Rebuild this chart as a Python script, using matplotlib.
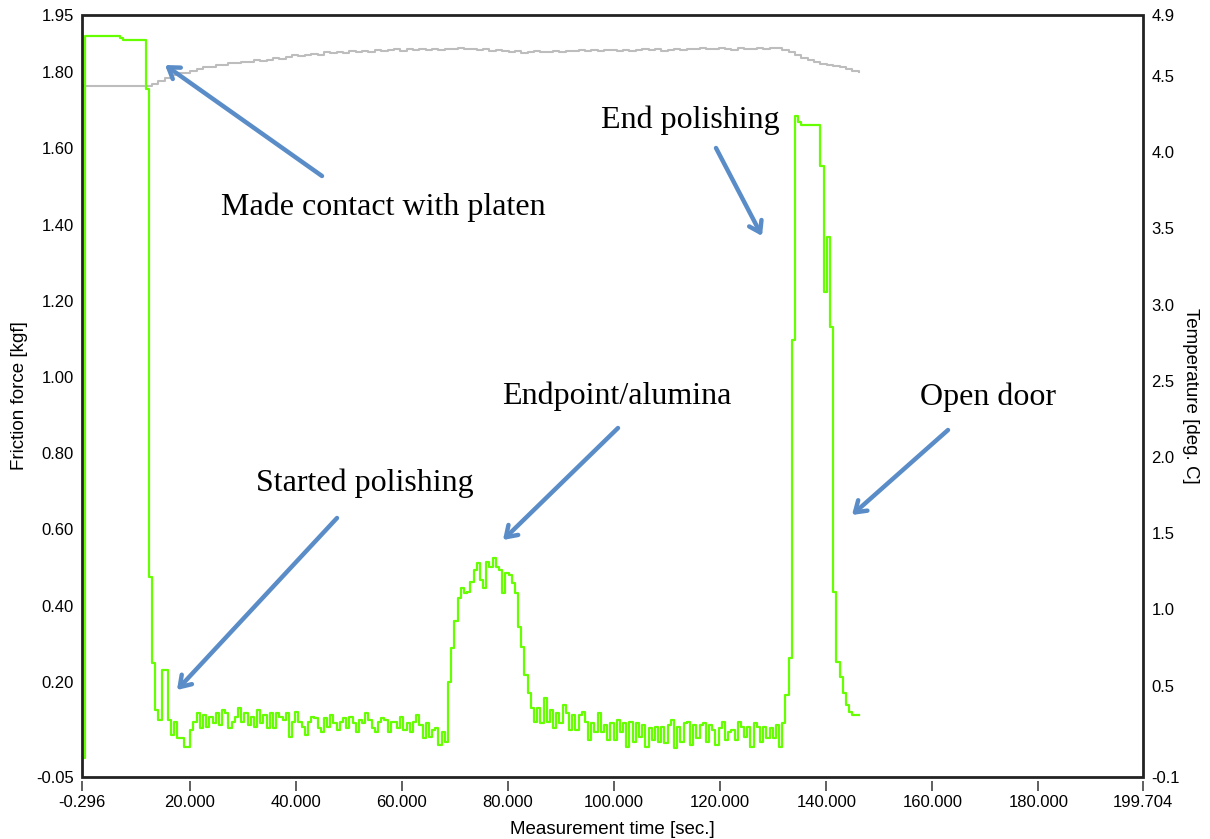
import numpy as np
import matplotlib.pyplot as plt
from matplotlib.patches import Rectangle

# friction force [kgf], sampled every 0.6 s from t = -0.296 s
dt_force = 0.6
force_start = [0.0] + [1.895] * 11 + [1.89] + [1.885] * 7 + [1.756, 0.475, 0.25, 0.126, 0.10, 0.23, 0.23]
force_noise_1 = [
    0.100, 0.060, 0.095, 0.052, 0.052, 0.030, 0.030, 0.073, 0.095, 0.117,
    0.078, 0.113, 0.082, 0.108, 0.091, 0.117, 0.086, 0.126, 0.117, 0.078,
    0.095, 0.108, 0.130, 0.095, 0.117, 0.086, 0.108, 0.082, 0.126, 0.091,
    0.113, 0.078, 0.117, 0.078, 0.117, 0.108, 0.100, 0.117, 0.056, 0.095,
    0.121, 0.095, 0.082, 0.060, 0.095, 0.108, 0.104, 0.078, 0.069, 0.104,
    0.082, 0.113, 0.091, 0.073, 0.095, 0.104, 0.078, 0.108, 0.091, 0.069,
    0.100, 0.091, 0.117, 0.100, 0.078, 0.069, 0.095, 0.104, 0.100, 0.069,
    0.095, 0.095, 0.078, 0.108, 0.073, 0.091, 0.069, 0.095, 0.113, 0.086,
    0.052, 0.091, 0.056, 0.073, 0.078, 0.034, 0.069, 0.043,
]
force_peak = [
    0.20, 0.288, 0.36, 0.42, 0.445, 0.432, 0.436, 0.462, 0.493, 0.511,
    0.467, 0.445, 0.515, 0.502, 0.525, 0.50, 0.493, 0.433, 0.485, 0.48,
    0.46, 0.433, 0.345, 0.29, 0.218, 0.17, 0.13,
]
force_noise_2 = [
    0.095, 0.130, 0.091, 0.157, 0.095, 0.126, 0.078, 0.117, 0.091, 0.139,
    0.117, 0.073, 0.113, 0.073, 0.113, 0.121, 0.095, 0.047, 0.091, 0.069,
    0.117, 0.069, 0.086, 0.047, 0.091, 0.047, 0.100, 0.069, 0.091, 0.030,
    0.095, 0.043, 0.091, 0.056, 0.086, 0.030, 0.078, 0.047, 0.082, 0.043,
    0.082, 0.038, 0.086, 0.100, 0.025, 0.082, 0.043, 0.091, 0.095, 0.034,
    0.086, 0.052, 0.086, 0.091, 0.043, 0.086, 0.073, 0.034, 0.078, 0.095,
    0.047, 0.069, 0.073, 0.047, 0.095, 0.082, 0.056, 0.082, 0.030, 0.091,
    0.082, 0.043, 0.082, 0.052, 0.078, 0.052, 0.086, 0.030,
]
force_end = [
    0.092, 0.165, 0.262, 1.097, 1.685, 1.668, 1.661, 1.661, 1.661, 1.661,
    1.661, 1.661, 1.553, 1.224, 1.368, 1.132, 0.436, 0.253, 0.213, 0.170,
    0.139, 0.121, 0.113, 0.113, 0.113,
]

# temperature [deg. C], sampled every 1.2 s
dt_temp = 1.2
temperature = [
    4.432, 4.432, 4.432, 4.432, 4.432, 4.432, 4.432, 4.432, 4.432, 4.432,
    4.432, 4.447, 4.467, 4.485, 4.506, 4.521, 4.521, 4.534, 4.548, 4.557,
    4.557, 4.572, 4.572, 4.583, 4.583, 4.594, 4.594, 4.605, 4.598, 4.605,
    4.616, 4.610, 4.627, 4.638, 4.632, 4.638, 4.645, 4.638, 4.654, 4.648,
    4.659, 4.652, 4.664, 4.656, 4.666, 4.659, 4.670, 4.662, 4.670, 4.675,
    4.666, 4.675, 4.670, 4.679, 4.672, 4.679, 4.670, 4.679, 4.679, 4.683,
    4.675, 4.679, 4.670, 4.675, 4.664, 4.670, 4.662, 4.659, 4.662, 4.652,
    4.659, 4.662, 4.654, 4.659, 4.666, 4.659, 4.666, 4.662, 4.670, 4.666,
    4.672, 4.664, 4.670, 4.670, 4.662, 4.670, 4.666, 4.670, 4.675, 4.670,
    4.675, 4.666, 4.672, 4.679, 4.672, 4.679, 4.675, 4.683, 4.679, 4.675,
    4.683, 4.679, 4.672, 4.683, 4.679, 4.675, 4.683, 4.679, 4.683, 4.686,
    4.670, 4.654, 4.638, 4.620, 4.605, 4.590, 4.580, 4.572, 4.565, 4.558,
    4.546, 4.535, 4.524,
]

x_ticks = [-0.296, 20, 40, 60, 80, 100, 120, 140, 160, 180, 199.704]
x_labels = ["-0.296", "20.000", "40.000", "60.000", "80.000", "100.000",
            "120.000", "140.000", "160.000", "180.000", "199.704"]
y_ticks = [-0.05, 0.20, 0.40, 0.60, 0.80, 1.00, 1.20, 1.40, 1.60, 1.80, 1.95]
y_labels = ["-0.05", "0.20", "0.40", "0.60", "0.80", "1.00", "1.20", "1.40", "1.60", "1.80", "1.95"]
t_ticks = [-0.1, 0.5, 1.0, 1.5, 2.0, 2.5, 3.0, 3.5, 4.0, 4.5, 4.9]
t_labels = ["-0.1", "0.5", "1.0", "1.5", "2.0", "2.5", "3.0", "3.5", "4.0", "4.5", "4.9"]

notes = [
    ("Made contact with platen", (383, 207), (322, 176), (165, 65)),
    ("End polishing", (690, 120), (716, 148), (762, 236)),
    ("Endpoint/alumina", (617, 396), (618, 428), (503, 540)),
    ("Open door", (988, 397), (948, 430), (852, 515)),
    ("Started polishing", (365, 483), (337, 518), (177, 690)),
]

force = np.array(force_start + force_noise_1 + force_peak + force_noise_2 + force_end)
t_force = -0.296 + dt_force * np.arange(len(force))
temp = np.array(temperature)
t_temp = -0.296 + dt_temp * np.arange(len(temp))

plt.rcParams['font.family'] = ['Liberation Sans', 'DejaVu Sans']

W, H = 1210, 839
fig = plt.figure(figsize=(W / 100, H / 100), dpi=100)
ax = fig.add_axes([82 / W, 1 - 777 / H, (1143 - 82) / W, (777 - 15) / H])
ax2 = ax.twinx()

ax2.step(t_temp, temp, where='post', color='#bdbdbd', lw=1.5)
ax.step(t_force, force, where='post', color='#66ff00', lw=1.6, zorder=3)
ax.set_zorder(ax2.get_zorder() + 1)
ax.patch.set_visible(False)

ax.set_xlim(-0.296, 199.704)
ax.set_ylim(-0.05, 1.95)
ax2.set_ylim(-0.1, 4.9)

ax.set_xticks(x_ticks)
ax.set_xticklabels(x_labels)
ax.set_yticks(y_ticks)
ax.set_yticklabels(y_labels)
ax2.set_yticks(t_ticks)
ax2.set_yticklabels(t_labels)

for a in (ax, ax2):
    for s in a.spines.values():
        s.set_visible(False)
ax.spines['bottom'].set_position(('outward', 3))
ax.tick_params(axis='x', direction='out', length=7, width=1.2, color='#444444',
               labelsize=12, pad=3)
ax.tick_params(axis='y', length=0, labelsize=12, pad=6)
ax2.tick_params(axis='y', length=0, labelsize=12, pad=6)
ax.add_patch(Rectangle((0, 0), 1, 1, transform=ax.transAxes, fill=False,
                       lw=2, ec='#222222', clip_on=False, zorder=5))

ax.set_xlabel("Measurement time [sec.]", fontsize=13.5, labelpad=8)
ax.set_ylabel("Friction force [kgf]", fontsize=13.5, labelpad=6)
ax2.set_ylabel("Temperature [deg. C]", fontsize=13.5, rotation=-90, labelpad=14)

# annotations placed in figure pixel coordinates
for text, tpos, start, end in notes:
    fig.text(tpos[0] / W, 1 - tpos[1] / H, text, family='Liberation Serif',
             fontsize=23, ha='center', va='center')
    ax.annotate("", xy=(end[0] / W, 1 - end[1] / H), xycoords='figure fraction',
                xytext=(start[0] / W, 1 - start[1] / H), textcoords='figure fraction',
                arrowprops=dict(arrowstyle='->,head_length=0.75,head_width=0.5',
                                color='#5a8dc8', lw=3.2, shrinkA=0, shrinkB=0))

fig.savefig("out.png", dpi=100)
